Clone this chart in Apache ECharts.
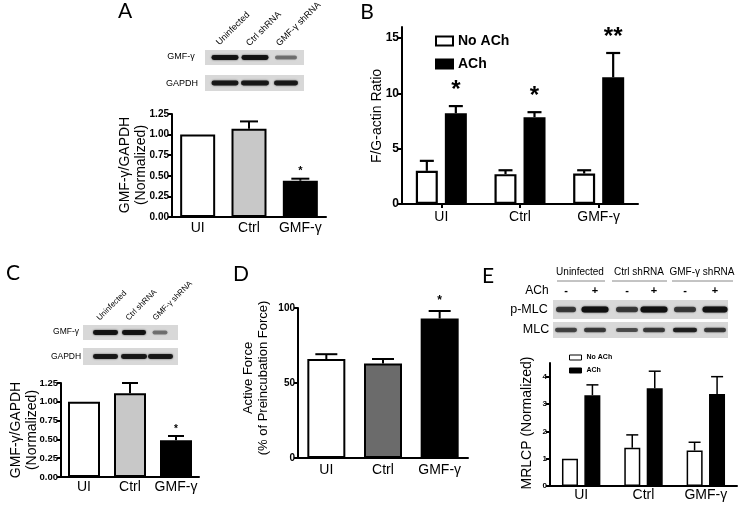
<!DOCTYPE html>
<html><head><meta charset="utf-8">
<script src="https://cdn.jsdelivr.net/npm/echarts@6/dist/echarts.min.js"></script>
<style>html,body{margin:0;padding:0;background:#fff}#c{width:741px;height:507px}</style>
</head><body><div id="c"></div>
<script>
// ---------- data ----------
const categories = ['UI', 'Ctrl', 'GMF-γ'];
const laneLabels = ['Uninfected', 'Ctrl shRNA', 'GMF-γ shRNA'];

// Panel A
const aValues = [1.00, 1.07, 0.44];
const aSem = [0, 0.09, 0.025];
const aStars = ['', '', '*'];
const aColors = ['#ffffff', '#c8c8c8', '#000000'];

// Panel B
const bNoACh = [3.0, 2.7, 2.75];
const bNoAChSem = [0.9, 0.35, 0.3];
const bACh = [8.2, 7.85, 11.45];
const bAChSem = [0.65, 0.45, 2.2];
const bAChStars = ['*', '*', '**'];

// Panel C
const cValues = [1.00, 1.115, 0.49];
const cSem = [0, 0.135, 0.055];
const cStars = ['', '', '*'];
const cColors = ['#ffffff', '#c8c8c8', '#000000'];

// Panel D
const dValues = [66, 63, 93];
const dSem = [3.2, 3.0, 5.0];
const dStars = ['', '', '*'];
const dColors = ['#ffffff', '#6b6b6b', '#000000'];

// Panel E
const eNoACh = [1.0, 1.4, 1.3];
const eNoAChSem = [0, 0.47, 0.3];
const eACh = [3.32, 3.58, 3.37];
const eAChSem = [0.38, 0.62, 0.63];

// blot band intensities (0..1)
const aBlotGMF = [0.95, 0.95, 0.45];
const aBlotGAPDH = [0.9, 0.9, 0.9];
const cBlotGMF = [0.95, 0.95, 0.45];
const cBlotGAPDH = [0.9, 0.9, 0.9];
const eBlotPMLC = [0.7, 1.0, 0.7, 1.0, 0.7, 0.95];
const eBlotMLC = [0.65, 0.7, 0.6, 0.7, 0.85, 0.7];
const eAChSigns = ['-', '+', '-', '+', '-', '+'];

// ---------- helpers ----------
const F = '"Liberation Sans", Arial, sans-serif';
const chart = echarts.init(document.getElementById('c'), null, {renderer: 'canvas'});

function xAx(gi, margin, ticks) {
  return {
    type: 'category', gridIndex: gi, data: categories,
    axisLine: {show: true, lineStyle: {color: '#000', width: 2}},
    axisTick: {show: !!ticks, alignWithLabel: true, length: 4, lineStyle: {color: '#000', width: 2}},
    axisLabel: {color: '#000', fontSize: 14, margin: margin, fontFamily: F, interval: 0}
  };
}
function yAx(gi, max, interval, fmt, fs, hideMax) {
  return {
    type: 'value', gridIndex: gi, min: 0, max: max, interval: interval,
    splitLine: {show: false},
    axisLine: {show: true, lineStyle: {color: '#000', width: 2}},
    axisTick: {show: true, length: 4, lineStyle: {color: '#000', width: 2}},
    axisLabel: {color: '#000', fontWeight: 'bold', fontSize: fs, margin: 3, fontFamily: F,
      showMaxLabel: !hideMax, formatter: fmt}
  };
}
function barSeries(gi, name, vals, colors, width, gap, bw) {
  const single = !Array.isArray(colors);
  return {
    type: 'bar', name: name, xAxisIndex: gi, yAxisIndex: gi, barWidth: width, barGap: gap,
    data: vals.map((v, i) => single ? v : ({value: v, itemStyle: {color: colors[i]}})),
    itemStyle: {color: single ? colors : '#fff', borderColor: '#000', borderWidth: bw},
    emphasis: {disabled: true}, silent: true
  };
}
function errSeries(gi, vals, sems, stars, offset, capW, lw, starSize, starGap) {
  return {
    type: 'custom', xAxisIndex: gi, yAxisIndex: gi, z: 10, silent: true,
    data: vals.map((v, i) => [i, v, v + sems[i]]),
    renderItem(params, api) {
      const i = params.dataIndex;
      const p0 = api.coord([api.value(0), api.value(1)]);
      const p1 = api.coord([api.value(0), api.value(2)]);
      const x = p0[0] + offset;
      const ch = [];
      if (sems[i] > 0) {
        ch.push({type: 'line', shape: {x1: x, y1: p0[1], x2: x, y2: p1[1]}, style: {stroke: '#000', lineWidth: lw}});
        ch.push({type: 'line', shape: {x1: x - capW / 2, y1: p1[1], x2: x + capW / 2, y2: p1[1]}, style: {stroke: '#000', lineWidth: lw}});
      }
      if (stars && stars[i]) {
        ch.push({type: 'text', x: x, y: p1[1] - starGap,
          style: {text: stars[i], fontSize: starSize, fontWeight: 'bold', fontFamily: F, fill: '#000',
            align: 'center', verticalAlign: 'middle'}});
      }
      return {type: 'group', children: ch};
    }
  };
}
function txt(x, y, s, fs, st) {
  return {type: 'text', x: x, y: y, silent: true,
    style: Object.assign({text: s, fontSize: fs, fontFamily: F, fill: '#000', align: 'center', verticalAlign: 'middle'}, st || {})};
}
function vtxt(x, y, s, fs) {
  return {type: 'text', x: x, y: y, rotation: Math.PI / 2, silent: true,
    style: {text: s, fontSize: fs, fontFamily: F, fill: '#000', align: 'center', verticalAlign: 'middle', lineHeight: fs + 2}};
}
function blot(x, y, w, h, centers, widths, intens, bh) {
  const els = [{type: 'rect', silent: true, shape: {x: x, y: y, width: w, height: h}, style: {fill: '#d8d8d8'}}];
  centers.forEach((c, i) => {
    const a = intens[i];
    const hh = bh * (0.6 + 0.4 * a);
    els.push({type: 'rect', silent: true,
      shape: {x: c - widths[i] / 2, y: y + h / 2 - hh / 2, width: widths[i], height: hh, r: hh / 2},
      style: {fill: 'rgba(15,15,15,' + a + ')', shadowBlur: 2, shadowColor: 'rgba(15,15,15,' + (a * 0.8) + ')'}});
  });
  return els;
}
function diag(x, y, s, fs) {
  return {type: 'text', x: x, y: y, rotation: Math.PI / 4, silent: true,
    style: {text: s, fontSize: fs, fontFamily: F, fill: '#000', align: 'left', verticalAlign: 'bottom'}};
}

// ---------- graphics (panel letters, names, blots) ----------
const LF = 'Lato, "Open Sans", sans-serif';
let gfx = [];
[['A', 125, 11], ['B', 367, 12], ['C', 13, 273], ['D', 241, 274], ['E', 488, 276]].forEach(l => {
  gfx.push({type: 'text', x: l[1], y: l[2], silent: true,
    style: {text: l[0], fontSize: 21, fontFamily: LF, fill: '#000', align: 'center', verticalAlign: 'middle'}});
});
// axis names
gfx.push(vtxt(133, 165, 'GMF-γ/GAPDH\n(Normalized)', 14));
gfx.push(vtxt(377, 116, 'F/G-actin Ratio', 14));
gfx.push(vtxt(24, 430, 'GMF-γ/GAPDH\n(Normalized)', 14));
gfx.push(vtxt(256, 378, 'Active Force\n(% of Preincubation Force)', 13));
gfx.push(vtxt(527, 423, 'MRLCP (Normalized)', 14));

// Blot A
gfx = gfx.concat(blot(205, 50, 99, 15, [225, 255, 286], [27, 27, 22], aBlotGMF, 5));
gfx = gfx.concat(blot(205, 75, 99, 16, [225, 255, 286], [27, 28, 24], aBlotGAPDH, 5));
gfx.push(txt(181, 57, 'GMF-γ', 9));
gfx.push(txt(182, 84, 'GAPDH', 9));
gfx.push(diag(221, 47, laneLabels[0], 9));
gfx.push(diag(251, 48, laneLabels[1], 9));
gfx.push(diag(281, 48, laneLabels[2], 9));

// Blot C
gfx = gfx.concat(blot(83, 325, 95, 15, [105.5, 134, 160], [25, 24, 15], cBlotGMF, 5));
gfx = gfx.concat(blot(83, 348, 95, 17, [105.5, 134, 160.5], [25, 26, 25], cBlotGAPDH, 5));
gfx.push(txt(66, 332, 'GMF-γ', 8.5));
gfx.push(txt(66, 357, 'GAPDH', 8.5));
gfx.push(diag(101, 322, laneLabels[0], 8));
gfx.push(diag(130, 322, laneLabels[1], 8));
gfx.push(diag(157, 322, laneLabels[2], 8));

// Blot E
const eLanes = [566, 595, 627, 654, 685, 715];
gfx = gfx.concat(blot(553, 300, 175, 19, eLanes, [20, 27, 22, 27, 22, 25], eBlotPMLC, 6));
gfx = gfx.concat(blot(553, 322, 175, 16, eLanes, [22, 22, 22, 22, 24, 22], eBlotMLC, 5));
gfx.push(txt(580, 272, 'Uninfected', 10));
gfx.push(txt(639, 272, 'Ctrl shRNA', 10));
gfx.push(txt(702, 272, 'GMF-γ shRNA', 10));
[[557, 605], [612, 667], [672, 733]].forEach(s => gfx.push({type: 'line', silent: true,
  shape: {x1: s[0], y1: 281, x2: s[1], y2: 281}, style: {stroke: '#888', lineWidth: 1}}));
gfx.push(txt(537, 291, 'ACh', 12));
eLanes.forEach((c, i) => gfx.push(txt(c, 291, eAChSigns[i], 11, {fontWeight: 'bold'})));
gfx.push(txt(529, 310, 'p-MLC', 12.5));
gfx.push(txt(536, 330, 'MLC', 12.5));

// ---------- option ----------
const grids = [
  {left: 172, top: 114, width: 154, height: 103},   // A
  {left: 402, top: 27, width: 236, height: 177},    // B
  {left: 61, top: 383, width: 138, height: 94},     // C
  {left: 298, top: 308, width: 170, height: 150},   // D
  {left: 550, top: 363, width: 187, height: 123}    // E
].map(g => Object.assign({outerBoundsMode: 'none', containLabel: false}, g));

const f2 = v => v.toFixed(2);
const f0 = v => String(v);

const option = {
  animation: false,
  backgroundColor: '#fff',
  grid: grids,
  legend: [
    {data: ['No ACh', 'ACh'], orient: 'vertical', left: 430, top: 29, itemWidth: 17, itemHeight: 9, itemGap: 9,
      selectedMode: false, textStyle: {fontSize: 14, fontWeight: 'bold', fontFamily: F, color: '#000'},
      icon: 'rect', itemStyle: {borderColor: '#000', borderWidth: 2}},
    {data: ['No ACh', 'ACh'], orient: 'vertical', left: 564, top: 349, itemWidth: 12, itemHeight: 5, itemGap: 6,
      selectedMode: false, textStyle: {fontSize: 7, fontWeight: 'bold', fontFamily: F, color: '#000'},
      icon: 'rect', itemStyle: {borderColor: '#000', borderWidth: 1}}
  ],
  xAxis: [xAx(0, 4), xAx(1, 6, true), xAx(2, 3), xAx(3, 5), xAx(4, 2)],
  yAxis: [
    yAx(0, 1.25, 0.25, f2, 10),
    yAx(1, 16, 5, f0, 12, true),
    yAx(2, 1.25, 0.25, f2, 9.5),
    yAx(3, 100, 50, f0, 10),
    yAx(4, 4.5, 1, f0, 8, true)
  ],
  series: [
    barSeries(0, 'A', aValues, aColors, 35, '0%', 2),
    errSeries(0, aValues, aSem, aStars, 0, 18, 2, 11, 8),
    barSeries(1, 'No ACh', bNoACh, '#ffffff', 22, '32%', 2.2),
    barSeries(1, 'ACh', bACh, '#000000', 22, '32%', 2.2),
    errSeries(1, bNoACh, bNoAChSem, null, -14.5, 14, 2.2, 24, 14),
    errSeries(1, bACh, bAChSem, bAChStars, 14.5, 14, 2.2, 24, 16),
    barSeries(2, 'C', cValues, cColors, 32, '0%', 2),
    errSeries(2, cValues, cSem, cStars, 0, 16, 2, 10, 7),
    barSeries(3, 'D', dValues, dColors, 38, '0%', 2),
    errSeries(3, dValues, dSem, dStars, 0, 22, 2, 12, 10),
    barSeries(4, 'No ACh', eNoACh, '#ffffff', 16, '40%', 1.5),
    barSeries(4, 'ACh', eACh, '#000000', 16, '40%', 1.5),
    errSeries(4, eNoACh, eNoAChSem, null, -11.25, 12, 1.5, 10, 6),
    errSeries(4, eACh, eAChSem, null, 11.25, 12, 1.5, 10, 6)
  ],
  graphic: {elements: gfx}
};
chart.setOption(option);
</script>
</body></html>
